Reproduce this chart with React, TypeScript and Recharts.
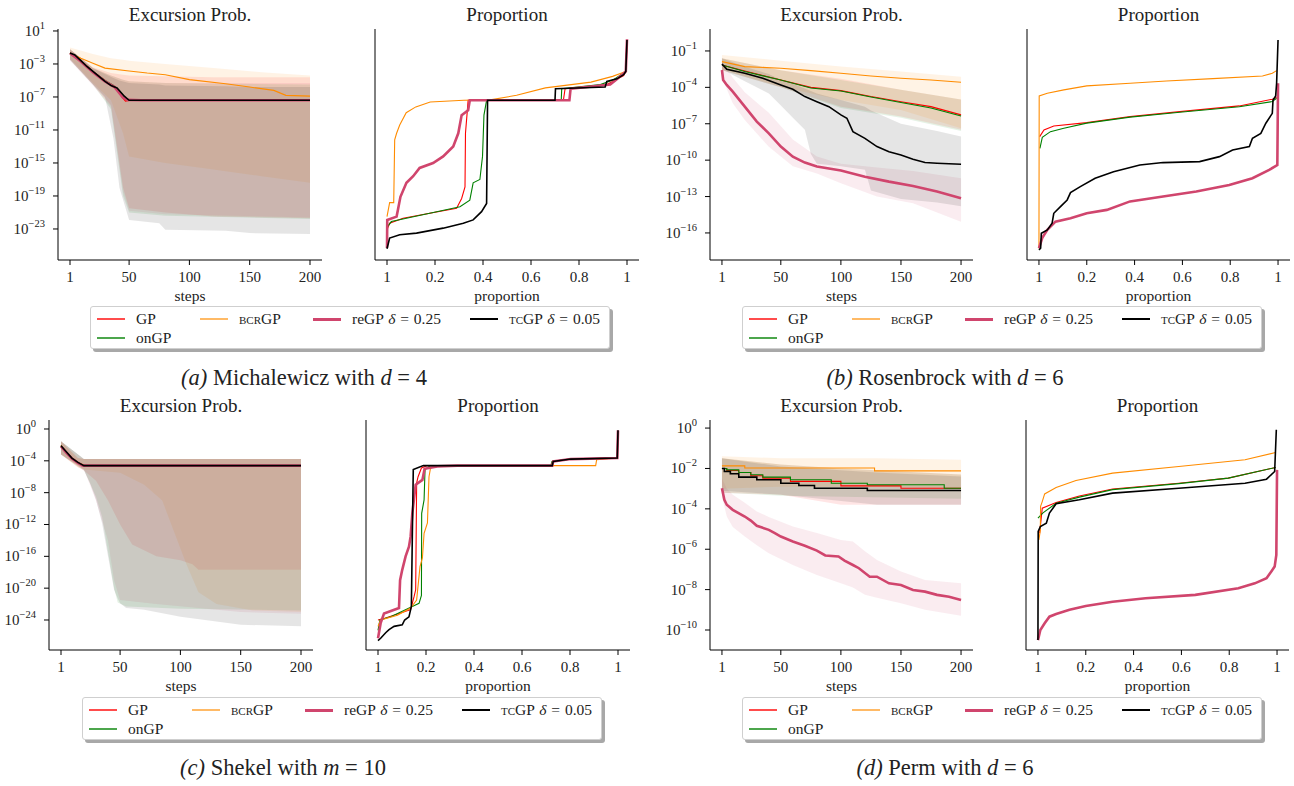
import React from "react";
import { ComposedChart, Line, Area, XAxis, YAxis } from "recharts";

const SERIF = '"Liberation Serif", "DejaVu Serif", "Noto Serif", serif';
const COL = { gp: "#ff0000", on: "#008000", bcr: "#ff8c00", re: "#d0456d", tc: "#000000" };

// all values below are log10 of the plotted quantity
// excursion: [step, log10 p]   bands: [step, log10 low, log10 high]   proportion: [fraction, log10 p]

// ---- (a) Michalewicz d=4
const aGP = [[1, -1.67], [10, -2.6], [20, -3.9], [30, -5.0], [35, -5.6], [40, -6.1], [44, -7.0], [47, -7.5], [51, -7.4], [200, -7.4]];
const aON = [[1, -1.67], [10, -2.6], [20, -3.9], [30, -5.0], [37, -5.6], [42, -6.3], [48, -7.3], [51, -7.4], [200, -7.4]];
const aBCR = [[1, -1.67], [10, -2.3], [20, -2.9], [30, -3.5], [50, -3.85], [65, -4.1], [80, -4.3], [100, -4.9], [130, -5.4], [150, -5.8], [170, -6.2], [180, -6.8], [200, -6.9]];
const aRE = [[1, -1.7], [10, -2.7], [20, -4.0], [30, -5.1], [38, -5.8], [45, -7.1], [49, -7.35], [60, -7.4], [200, -7.4]];
const aTC = [[1, -1.67], [5, -1.9], [10, -2.6], [15, -3.3], [20, -3.9], [25, -4.5], [30, -5.1], [35, -5.6], [40, -5.9], [46, -6.9], [50, -7.4], [200, -7.4]];
const aBandGP = [[1, -2.5, -1.2], [20, -5.5, -3.4], [35, -8.0, -4.1], [45, -18, -4.3], [50, -20.5, -4.4], [80, -21, -4.5], [120, -21.5, -4.6], [200, -21.7, -4.6]];
const aBandON = [[1, -2.5, -1.2], [20, -5.5, -3.5], [35, -8.5, -4.4], [45, -19, -4.9], [50, -21, -5.1], [80, -21.4, -5.3], [200, -21.8, -5.5]];
const aBandBCR = [[1, -2.3, -1.0], [20, -5.3, -1.8], [35, -7.4, -2.3], [45, -11.4, -2.5], [50, -14.2, -2.6], [80, -15.0, -3.0], [120, -15.8, -3.5], [160, -16.6, -4.0], [200, -17.4, -4.4]];
const aBandRE = [[1, -2.6, -1.2], [20, -5.6, -3.5], [35, -8.2, -4.4], [45, -18.5, -4.9], [50, -20.8, -5.1], [80, -21.2, -5.3], [200, -21.6, -5.3]];
const aBandTC = [[1, -2.5, -1.2], [20, -5.5, -3.5], [30, -7, -4.2], [37, -12, -4.7], [42, -18, -5.0], [50, -21.9, -5.3], [75, -22.3, -5.5], [80, -23.1, -5.6], [130, -23.2, -5.7], [150, -23.5, -5.8], [200, -23.6, -5.8]];
const aPropGP = [[0, -23.1], [0.011, -22.3], [0.067, -21.7], [0.178, -21.1], [0.29, -20.5], [0.311, -19.3], [0.325, -17.9], [0.327, -11.4], [0.334, -8.9], [0.338, -7.4], [0.735, -7.4], [0.742, -6.0], [0.916, -5.5], [0.986, -4.4], [0.995, -3.9], [1, -0.1]];
const aPropON = [[0, -22.8], [0.018, -22.1], [0.178, -21.1], [0.304, -20.3], [0.345, -19.5], [0.359, -17.4], [0.387, -17.0], [0.398, -14.2], [0.404, -9.2], [0.415, -7.4], [0.726, -7.4], [0.728, -6.0], [0.889, -5.5], [0.944, -4.9], [0.995, -3.9], [1, -0.1]];
const aPropBCR = [[0, -21.5], [0.011, -19.8], [0.028, -19.8], [0.032, -12.2], [0.04, -11.4], [0.053, -10.4], [0.08, -8.9], [0.12, -8.2], [0.18, -7.6], [0.32, -7.4], [0.43, -7.35], [0.54, -6.8], [0.66, -5.9], [0.85, -5.2], [0.94, -4.5], [0.995, -3.9], [1, -0.1]];
const aPropRE = [[0, -25.3], [0.001, -21.9], [0.04, -21.5], [0.046, -20.6], [0.056, -19.1], [0.081, -17.4], [0.109, -16.6], [0.136, -15.6], [0.192, -15.0], [0.234, -14.2], [0.276, -13.0], [0.297, -11.4], [0.311, -9.2], [0.338, -8.6], [0.345, -7.4], [0.76, -7.4], [0.765, -6.0], [0.93, -5.5], [0.96, -4.8], [0.995, -3.9], [1, 0]];
const aPropTC = [[0, -25.4], [0.011, -24.1], [0.053, -23.7], [0.123, -23.5], [0.234, -22.9], [0.318, -22.3], [0.359, -21.9], [0.394, -20.9], [0.415, -19.9], [0.419, -7.4], [0.7, -7.4], [0.702, -6.0], [0.909, -5.8], [0.916, -5.1], [0.958, -4.8], [0.986, -4.3], [0.995, -3.9], [1, -0.1]];

// ---- (b) Rosenbrock d=6
const bGP = [[1, -2.15], [20, -2.65], [50, -3.39], [75, -4.0], [100, -4.27], [125, -4.76], [150, -5.18], [175, -5.59], [200, -6.27]];
const bON = [[1, -2.15], [20, -2.7], [50, -3.4], [75, -4.05], [100, -4.3], [125, -4.8], [150, -5.25], [175, -5.7], [200, -6.36]];
const bBCR = [[1, -1.88], [20, -2.29], [50, -2.43], [75, -2.62], [100, -2.84], [125, -3.06], [150, -3.25], [175, -3.39], [200, -3.58]];
const bRE = [[1, -2.57], [2, -3.39], [5, -3.8], [10, -4.35], [20, -5.59], [30, -6.82], [40, -7.79], [50, -8.88], [60, -9.71], [70, -10.2], [80, -10.53], [100, -10.86], [120, -11.36], [140, -11.77], [160, -12.13], [180, -12.59], [200, -13.14]];
const bTC = [[1, -2.07], [5, -2.5], [20, -2.84], [35, -3.25], [50, -3.8], [60, -4.16], [70, -4.76], [80, -5.18], [90, -5.59], [100, -6.27], [105, -6.55], [110, -7.65], [120, -8.2], [130, -8.88], [140, -9.3], [150, -9.57], [160, -9.93], [170, -10.2], [180, -10.26], [200, -10.34]];
const bBandGP = [[1, -2.6, -1.6], [50, -4.0, -2.6], [100, -5.6, -3.3], [150, -6.4, -4.2], [200, -7.5, -5.0]];
const bBandON = [[1, -2.6, -1.6], [50, -4.0, -2.6], [100, -5.7, -3.4], [150, -6.5, -4.2], [200, -7.6, -5.0]];
const bBandBCR = [[1, -2.5, -1.33], [50, -3.94, -1.8], [100, -5.04, -2.29], [150, -5.86, -2.7], [200, -7.37, -3.12]];
const bBandRE = [[1, -3.2, -1.8], [10, -5.3, -3.2], [20, -6.7, -4.4], [40, -8.9, -6.1], [60, -10.5, -8.3], [80, -11.1, -9.7], [100, -11.9, -10.3], [130, -13.0, -10.6], [160, -13.55, -10.9], [200, -15.07, -11.5]];
const bBandTC = [[1, -2.5, -1.6], [20, -3.5, -2.3], [40, -4.5, -2.9], [50, -5.5, -3.4], [60, -6.5, -3.7], [70, -7.5, -4.1], [75, -9.5, -4.3], [80, -10.3, -4.5], [100, -10.5, -5.04], [120, -10.8, -5.6], [125, -12.5, -5.9], [150, -13.2, -7.0], [180, -13.5, -7.6], [200, -13.8, -8.06]];
const bPropGP = [[0.003, -8.06], [0.021, -7.51], [0.062, -7.18], [0.2, -6.91], [0.381, -6.41], [0.589, -6.0], [0.838, -5.53], [0.976, -4.98], [0.994, -4.82]];
const bPropON = [[0.004, -9.02], [0.014, -8.12], [0.048, -7.65], [0.104, -7.37], [0.2, -6.95], [0.381, -6.45], [0.589, -6.05], [0.838, -5.6], [0.976, -5.17], [0.994, -4.9]];
const bPropBCR = [[0, -17.26], [0.001, -4.71], [0.035, -4.49], [0.104, -4.21], [0.2, -3.88], [0.381, -3.66], [0.533, -3.47], [0.727, -3.28], [0.935, -3.06], [0.976, -2.84], [0.994, -2.62]];
const bPropRE = [[0, -17.26], [0.014, -16.4], [0.035, -15.75], [0.069, -15.07], [0.132, -14.79], [0.2, -14.38], [0.284, -14.1], [0.381, -13.4], [0.519, -13.0], [0.658, -12.59], [0.796, -12.04], [0.893, -11.49], [0.963, -10.8], [0.997, -10.4], [1, -3.66]];
const bPropTC = [[0, -17.4], [0.007, -17.26], [0.01, -16.03], [0.035, -15.75], [0.055, -15.2], [0.062, -14.38], [0.09, -13.83], [0.118, -13.28], [0.132, -12.68], [0.173, -12.18], [0.235, -11.49], [0.312, -10.95], [0.422, -10.4], [0.519, -10.2], [0.672, -10.12], [0.755, -9.71], [0.81, -9.16], [0.88, -8.88], [0.893, -8.2], [0.928, -7.79], [0.949, -6.96], [0.976, -6.14], [0.979, -5.04], [0.99, -4.71], [0.994, -3.66], [1, -0.09]];

// ---- (c) Shekel m=10
const cGP = [[1, -2.1], [5, -2.8], [10, -3.65], [15, -4.2], [20, -4.6], [200, -4.6]];
const cON = [[1, -2.1], [5, -2.8], [10, -3.6], [15, -4.2], [20, -4.6], [200, -4.6]];
const cBCR = [[1, -2.1], [5, -2.85], [10, -3.65], [15, -4.2], [21, -4.6], [200, -4.6]];
const cRE = [[1, -2.2], [5, -2.9], [10, -3.7], [15, -4.25], [19, -4.6], [200, -4.6]];
const cTC = [[1, -2.1], [5, -2.8], [10, -3.65], [15, -4.2], [20, -4.6], [200, -4.6]];
const cBandGP = [[1, -3.2, -1.55], [15, -4.8, -3.65], [20, -5.2, -3.78], [30, -6.5, -3.78], [40, -9, -3.78], [50, -12, -3.78], [60, -14.5, -3.78], [80, -16, -3.78], [100, -16.5, -3.78], [110, -17, -3.78], [115, -17.7, -3.78], [200, -17.7, -3.78]];
const cBandON = [[1, -3.2, -1.55], [20, -5.1, -3.78], [30, -8.5, -3.78], [35, -11, -3.78], [40, -15.5, -3.78], [45, -20, -3.78], [48, -21.8, -3.78], [55, -22.3, -3.78], [100, -22.6, -3.78], [200, -22.8, -3.78]];
const cBandBCR = [[1, -3.2, -1.55], [15, -4.8, -3.65], [20, -5.1, -3.78], [50, -5.5, -3.78], [70, -7, -3.78], [85, -9, -3.78], [95, -13, -3.78], [105, -17, -3.78], [115, -20.5, -3.78], [130, -22.0, -3.78], [160, -22.8, -3.78], [200, -23.0, -3.78]];
const cBandRE = [[1, -3.2, -1.55], [20, -5.1, -3.78], [30, -9, -3.78], [40, -14, -3.78], [45, -19, -3.78], [50, -21.5, -3.78], [80, -22, -3.78], [150, -23, -3.78], [200, -23.2, -3.78]];
const cBandTC = [[1, -3.2, -1.55], [20, -5.2, -3.78], [25, -6.8, -3.78], [30, -8.9, -3.78], [35, -11.8, -3.78], [40, -16, -3.78], [45, -20.2, -3.78], [48, -21.3, -3.78], [50, -21.9, -3.78], [55, -22.5, -3.78], [70, -22.7, -3.78], [100, -23.6, -3.78], [150, -24.6, -3.78], [200, -24.8, -3.78]];
const cPropGP = [[0, -24.0], [0.025, -23.8], [0.136, -22.7], [0.15, -21.1], [0.157, -20.2], [0.161, -6.8], [0.167, -6.0], [0.181, -4.9], [0.206, -4.6], [0.726, -4.6], [0.73, -4.07], [0.803, -3.78], [0.997, -3.65]];
const cPropON = [[0, -25.3], [0.008, -24.0], [0.053, -23.6], [0.143, -22.3], [0.171, -21.9], [0.181, -20.9], [0.182, -10.6], [0.192, -8.9], [0.196, -5.1], [0.219, -4.6], [0.72, -4.6], [0.725, -4.07], [0.803, -3.78], [0.997, -3.65]];
const cPropBCR = [[0, -24.8], [0.011, -24.0], [0.081, -23.4], [0.136, -22.5], [0.161, -21.5], [0.175, -17.3], [0.185, -16.2], [0.192, -13.1], [0.206, -11.8], [0.2125, -6.0], [0.219, -4.9], [0.247, -4.6], [0.907, -4.6], [0.911, -3.86], [0.997, -3.65]];
const cPropRE = [[0, -26.3], [0.011, -24.4], [0.025, -23.2], [0.0875, -22.5], [0.092, -19.0], [0.101, -17.7], [0.115, -16.0], [0.129, -14.8], [0.136, -13.5], [0.143, -10.6], [0.157, -7.0], [0.185, -6.4], [0.194, -5.0], [0.247, -4.7], [0.33, -4.6], [0.726, -4.6], [0.73, -4.07], [0.803, -3.78], [0.997, -3.65], [1, -0.17]];
const cPropTC = [[0, -26.6], [0.011, -26.3], [0.032, -25.6], [0.046, -25.2], [0.067, -24.8], [0.101, -24.6], [0.111, -24.0], [0.129, -23.6], [0.139, -22.3], [0.143, -13.5], [0.147, -5.1], [0.189, -4.6], [0.726, -4.6], [0.73, -4.07], [0.803, -3.78], [0.997, -3.65], [1, -0.17]];

// ---- (d) Perm d=6
const dGP = [[1, -2.0], [5, -2.1], [15, -2.2], [25, -2.36], [35, -2.48], [58, -2.64], [100, -2.86], [150, -2.98], [200, -2.98]];
const dON = [[1, -2.0], [5, -2.07], [15, -2.2], [25, -2.31], [35, -2.43], [58, -2.56], [92, -2.73], [122, -2.81], [186, -2.98], [200, -2.98]];
const dBCR = [[1, -1.87], [20, -1.98], [128, -2.12], [200, -2.12]];
const dRE = [[1, -2.98], [3, -3.55], [5, -3.8], [10, -4.05], [20, -4.38], [25, -4.58], [30, -4.84], [40, -5.04], [45, -5.2], [50, -5.37], [60, -5.62], [70, -5.83], [80, -6.07], [87, -6.31], [98, -6.36], [103, -6.56], [110, -6.78], [115, -6.94], [124, -7.36], [130, -7.36], [140, -7.69], [150, -7.77], [160, -8.02], [170, -8.1], [180, -8.26], [190, -8.35], [200, -8.51]];
const dTC = [[1, -2.0], [3, -2.15], [8, -2.26], [15, -2.43], [30, -2.56], [50, -2.73], [65, -2.84], [78, -2.98], [122, -3.09], [200, -3.09]];
const dBandGP = [[1, -3.2, -1.49], [50, -3.3, -1.8], [100, -3.8, -2.0], [200, -3.8, -2.3]];
const dBandON = [[1, -3.2, -1.5], [50, -3.35, -1.8], [100, -3.4, -2.0], [200, -3.5, -2.3]];
const dBandBCR = [[1, -3.0, -1.4], [50, -2.9, -1.49], [130, -2.9, -1.49], [200, -3.0, -1.57]];
const dBandRE = [[1, -3.39, -2.48], [5, -4.38, -3.0], [10, -4.9, -3.3], [20, -5.37, -3.7], [30, -5.8, -4.13], [40, -6.2, -4.4], [60, -6.78, -4.88], [80, -7.27, -5.2], [100, -7.69, -5.54], [110, -7.9, -5.62], [120, -8.26, -6.1], [130, -8.4, -6.53], [150, -8.68, -7.1], [170, -9.0, -7.52], [200, -9.3, -7.69]];
const dBandTC = [[1, -3.1, -1.5], [50, -3.3, -1.9], [130, -3.8, -2.2], [200, -3.8, -2.4]];
const dPropGP = [[0.007, -5.2], [0.018, -3.97], [0.076, -3.69], [0.173, -3.36], [0.312, -3.02], [0.589, -2.73], [0.796, -2.48], [0.994, -1.95]];
const dPropON = [[0, -4.46], [0.021, -4.2], [0.076, -3.72], [0.173, -3.42], [0.312, -3.05], [0.589, -2.75], [0.796, -2.48], [0.994, -1.95]];
const dPropBCR = [[0.004, -5.54], [0.01, -5.04], [0.011, -3.88], [0.018, -3.64], [0.028, -3.26], [0.076, -2.94], [0.159, -2.6], [0.312, -2.23], [0.589, -1.9], [0.866, -1.57], [0.994, -1.21]];
const dPropRE = [[0, -10.5], [0.01, -10.0], [0.028, -9.67], [0.048, -9.34], [0.076, -9.21], [0.132, -9.0], [0.2, -8.81], [0.312, -8.6], [0.45, -8.43], [0.658, -8.26], [0.838, -7.93], [0.907, -7.69], [0.956, -7.44], [0.976, -7.1], [0.99, -6.86], [0.997, -6.28], [1, -2.07]];
const dPropTC = [[0, -10.5], [0.001, -5.12], [0.01, -4.88], [0.035, -4.71], [0.048, -4.21], [0.076, -3.75], [0.173, -3.55], [0.312, -3.22], [0.589, -2.98], [0.866, -2.73], [0.956, -2.53], [0.99, -2.15], [0.997, -0.08]];

// axis ticks (log10 exponents) and x ticks
const aYTicks = [1, -3, -7, -11, -15, -19, -23];
const bYTicks = [-1, -4, -7, -10, -13, -16];
const cYTicks = [0, -4, -8, -12, -16, -20, -24];
const dYTicks = [0, -2, -4, -6, -8, -10];
const stepTicks = [1, 50, 100, 150, 200];
const propTicks = [0, 0.2, 0.4, 0.6, 0.8, 1];

const pts = (a: number[][]) => a.map(([x, e]) => ({ x, y: Math.pow(10, e) }));
const rng = (a: number[][]) => a.map(([x, lo, hi]) => ({ x, r: [Math.pow(10, lo), Math.pow(10, hi)] }));

const LogTick = (p: any) => {
  const e = Math.round(Math.log10(p.payload.value));
  return (
    <text x={p.x} y={p.y + 5} textAnchor="end" fontFamily={SERIF} fontSize={15} fill="#222">
      10
      <tspan dy={-7} fontSize={10.5}>{e < 0 ? "\u2212" + -e : String(e)}</tspan>
    </text>
  );
};

type Series = { d: number[][]; c: string; w: number; step?: boolean };

function Plot(props: {
  l: number; t: number; w: number; h: number;
  xDomain: number[]; xTicks: number[]; xFmt?: (v: number) => string;
  yDom: number[]; yTicks: number[]; labels: boolean;
  bands: { d: number[][]; c: string }[]; lines: Series[];
}) {
  const yw = 70;
  const pad = 14;
  const W = props.w + yw;
  const H = props.h + 30 + pad;
  return (
    <div style={{ position: "absolute", left: props.l - yw, top: props.t - pad, width: W, height: H }}>
      <ComposedChart width={W} height={H} margin={{ top: pad, right: 0, bottom: 0, left: 0 }}>
        <XAxis
          type="number"
          dataKey="x"
          domain={props.xDomain}
          ticks={props.xTicks}
          tickFormatter={props.xFmt}
          allowDataOverflow
          interval={0}
          height={30}
          tickSize={5}
          tickMargin={6}
          stroke="#000"
          tick={{ fontFamily: SERIF, fontSize: 15, fill: "#222" }}
        />
        <YAxis
          type="number"
          scale="log"
          domain={[Math.pow(10, props.yDom[0]), Math.pow(10, props.yDom[1])]}
          ticks={props.yTicks.map((e) => Math.pow(10, e))}
          allowDataOverflow
          interval={0}
          width={yw}
          tickSize={5}
          tickMargin={8}
          stroke="#000"
          tick={props.labels ? (p: any) => <LogTick {...p} /> : false}
        />
        {props.bands.map((b, i) => (
          <Area
            key={"b" + i}
            data={rng(b.d)}
            dataKey="r"
            type="linear"
            stroke="none"
            fill={b.c}
            fillOpacity={0.1}
            isAnimationActive={false}
          />
        ))}
        {props.lines.map((s, i) => (
          <Line
            key={"l" + i}
            data={pts(s.d)}
            dataKey="y"
            type={s.step ? "stepAfter" : "linear"}
            stroke={s.c}
            strokeWidth={s.w}
            dot={false}
            isAnimationActive={false}
          />
        ))}
      </ComposedChart>
    </div>
  );
}

const T = (p: { x: number; y: number; size: number; children: React.ReactNode }) => (
  <div
    style={{
      position: "absolute",
      left: p.x,
      top: p.y,
      transform: "translate(-50%, -50%)",
      fontSize: p.size,
      whiteSpace: "nowrap",
      lineHeight: 1,
    }}
  >
    {p.children}
  </div>
);

const sc = (s: string) => <span style={{ fontVariant: "small-caps" }}>{s}</span>;

function Legend({ l, t }: { l: number; t: number }) {
  const items = [
    { c: COL.gp, w: 1.5, o: 0.7, x: 6, row: 0, label: <>GP</> },
    { c: COL.bcr, w: 1.5, o: 0.6, x: 109, row: 0, label: <>{sc("bcr")}GP</> },
    { c: COL.re, w: 3, o: 1, x: 222, row: 0, label: <>reGP <i>δ</i> = 0.25</> },
    { c: COL.tc, w: 2, o: 1, x: 379, row: 0, label: <>{sc("tc")}GP <i>δ</i> = 0.05</> },
    { c: COL.on, w: 1.5, o: 0.7, x: 6, row: 1, label: <>onGP</> },
  ];
  return (
    <div
      style={{
        position: "absolute",
        left: l,
        top: t,
        width: 518,
        height: 41,
        background: "#fff",
        border: "1px solid #cfcfcf",
        borderRadius: 3,
        boxShadow: "3px 3px 0 #a8a8a8",
      }}
    >
      {items.map((it, i) => (
        <React.Fragment key={i}>
          <div
            style={{
              position: "absolute",
              left: it.x,
              top: 12 + it.row * 19 - it.w / 2,
              width: 28,
              height: it.w,
              background: it.c,
              opacity: it.o,
            }}
          />
          <div style={{ position: "absolute", left: it.x + 39, top: 3 + it.row * 19, fontSize: 15.5, whiteSpace: "nowrap", wordSpacing: 1 }}>
            {it.label}
          </div>
        </React.Fragment>
      ))}
    </div>
  );
}

const EXC_X = [-8.95, 209.95];
const PROP_X = [-0.05, 1.05];
const propFmt = (v: number) => (v === 0 ? "1" : String(v));

type Five = { gp: number[][]; on: number[][]; bcr: number[][]; re: number[][]; tc: number[][] };

function Group(p: {
  ex: number; px: number; top: number; w: number; h: number;
  yDom: number[]; yTicks: number[]; step?: boolean;
  exc: Five; bands: Five; prop: Five;
}) {
  const bandList = [
    { d: p.bands.gp, c: COL.gp },
    { d: p.bands.on, c: COL.on },
    { d: p.bands.bcr, c: COL.bcr },
    { d: p.bands.re, c: COL.re },
    { d: p.bands.tc, c: COL.tc },
  ];
  const mk = (s: Five, step?: boolean): Series[] => [
    { d: s.gp, c: COL.gp, w: 1.1, step },
    { d: s.on, c: COL.on, w: 1.1, step },
    { d: s.bcr, c: COL.bcr, w: 1.1, step },
    { d: s.re, c: COL.re, w: 2.6 },
    { d: s.tc, c: COL.tc, w: 1.6, step },
  ];
  return (
    <>
      <Plot l={p.ex} t={p.top} w={p.w} h={p.h} xDomain={EXC_X} xTicks={stepTicks} yDom={p.yDom} yTicks={p.yTicks} labels bands={bandList} lines={mk(p.exc, p.step)} />
      <Plot l={p.px} t={p.top} w={p.w} h={p.h} xDomain={PROP_X} xTicks={propTicks} xFmt={propFmt} yDom={p.yDom} yTicks={p.yTicks} labels={false} bands={[]} lines={mk(p.prop)} />
      <T x={p.ex + p.w / 2} y={p.top - 15} size={19}>Excursion Prob.</T>
      <T x={p.px + p.w / 2} y={p.top - 15} size={19}>Proportion</T>
      <T x={p.ex + p.w / 2} y={p.top + p.h + 36} size={15.5}>steps</T>
      <T x={p.px + p.w / 2} y={p.top + p.h + 36} size={15.5}>proportion</T>
    </>
  );
}

export default function App() {
  return (
    <div
      style={{
        position: "absolute",
        left: 0,
        top: 0,
        width: 1294,
        height: 786,
        background: "#fff",
        overflow: "hidden",
        fontFamily: SERIF,
        color: "#222",
      }}
    >
      <Group
        ex={58} px={375} top={29} w={264} h={231}
        yDom={[-26.76, 1.24]} yTicks={aYTicks}
        exc={{ gp: aGP, on: aON, bcr: aBCR, re: aRE, tc: aTC }}
        bands={{ gp: aBandGP, on: aBandON, bcr: aBandBCR, re: aBandRE, tc: aBandTC }}
        prop={{ gp: aPropGP, on: aPropON, bcr: aPropBCR, re: aPropRE, tc: aPropTC }}
      />
      <Group
        ex={710} px={1027} top={29} w={263} h={231}
        yDom={[-18.23, 0.81]} yTicks={bYTicks}
        exc={{ gp: bGP, on: bON, bcr: bBCR, re: bRE, tc: bTC }}
        bands={{ gp: bBandGP, on: bBandON, bcr: bBandBCR, re: bBandRE, tc: bBandTC }}
        prop={{ gp: bPropGP, on: bPropON, bcr: bPropBCR, re: bPropRE, tc: bPropTC }}
      />
      <Group
        ex={49} px={366} top={420} w={264} h={230}
        yDom={[-27.77, 1.13]} yTicks={cYTicks}
        exc={{ gp: cGP, on: cON, bcr: cBCR, re: cRE, tc: cTC }}
        bands={{ gp: cBandGP, on: cBandON, bcr: cBandBCR, re: cBandRE, tc: cBandTC }}
        prop={{ gp: cPropGP, on: cPropON, bcr: cPropBCR, re: cPropRE, tc: cPropTC }}
      />
      <Group
        ex={710} px={1026} top={420} w={263} h={230}
        yDom={[-10.99, 0.4]} yTicks={dYTicks} step
        exc={{ gp: dGP, on: dON, bcr: dBCR, re: dRE, tc: dTC }}
        bands={{ gp: dBandGP, on: dBandON, bcr: dBandBCR, re: dBandRE, tc: dBandTC }}
        prop={{ gp: dPropGP, on: dPropON, bcr: dPropBCR, re: dPropRE, tc: dPropTC }}
      />

      <Legend l={90} t={306} />
      <Legend l={742} t={306} />
      <Legend l={82} t={697} />
      <Legend l={742} t={697} />

      <T x={304} y={378} size={22.5}><i>(a)</i> Michalewicz with <i>d</i> = 4</T>
      <T x={945} y={378} size={22.5}><i>(b)</i> Rosenbrock with <i>d</i> = 6</T>
      <T x={283} y={768} size={22.5}><i>(c)</i> Shekel with <i>m</i> = 10</T>
      <T x={945} y={768} size={22.5}><i>(d)</i> Perm with <i>d</i> = 6</T>
    </div>
  );
}
